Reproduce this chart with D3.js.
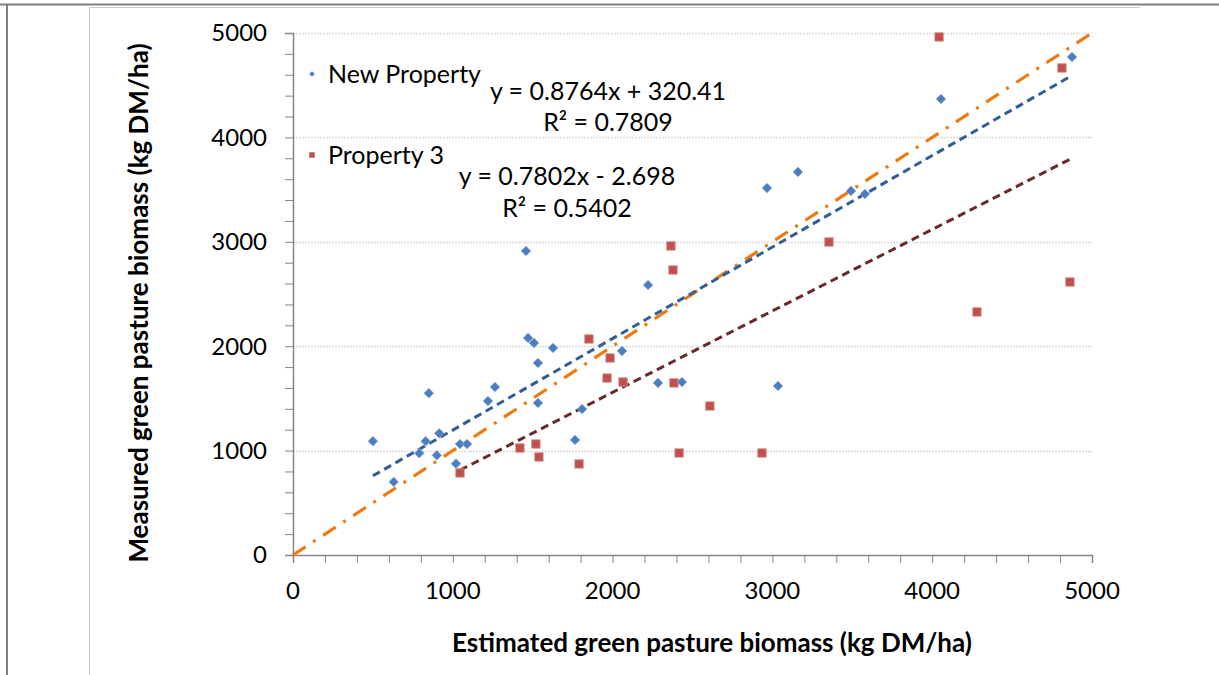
<!DOCTYPE html>
<html>
<head>
<meta charset="utf-8">
<script src="https://cdn.jsdelivr.net/npm/d3@7"></script>
<style>
  html, body { margin: 0; padding: 0; background: #fff; }
  svg { display: block; }
  text { font-family: Lato, "Open Sans", sans-serif; fill: #000; }
</style>
</head>
<body>
<script>
// Estimated vs measured green pasture biomass (kg DM/ha)
const newPropertyEst = [500, 630, 850, 830, 915, 790, 900, 1020, 1045, 1089, 1220, 1264, 1533, 1458,
  1471, 1508, 1627, 1533, 2059, 2222, 1765, 1809, 2284, 2434, 3035, 2966, 3160, 3492, 3579, 4055, 4875];
const newPropertyMeas = [1090, 700, 1550, 1090, 1165, 975, 955, 875, 1063, 1063, 1475, 1609, 1456, 2912,
  2079, 2031, 1983, 1839, 1954, 2586, 1102, 1398, 1648, 1657, 1619, 3515, 3669, 3487, 3458, 4368, 4770];

const property3Est = [1045, 1420, 1520, 1539, 1790, 1852, 1984, 1965, 2065, 2384, 2365, 2378, 2609,
  2416, 2935, 3354, 4043, 4812, 4862, 4280];
const property3Meas = [786, 1025, 1063, 939, 872, 2069, 1887, 1695, 1657, 1648, 2960, 2730, 1427,
  977, 977, 2998, 4962, 4665, 2615, 2328];

// Linear trendlines: slope, intercept, R²
const seriesNames = ["New Property", "Property 3"];
const trendSlopes = [0.8764, 0.7802];
const trendIntercepts = [320.41, -2.698];
const trendR2 = ["0.7809", "0.5402"];
const trendEquations = ["y = 0.8764x + 320.41", "y = 0.7802x - 2.698"];

// 1:1 reference line
const oneToOne = [0, 5000];

const xTicks = [0, 1000, 2000, 3000, 4000, 5000];
const yTicks = [0, 1000, 2000, 3000, 4000, 5000];

const W = 1219, H = 675;
const plot = { left: 293, right: 1092, top: 33, bottom: 555 };

const svg = d3.select("body").append("svg").attr("width", W).attr("height", H);

// surrounding document frame
svg.append("line").attr("x1", 0).attr("x2", W).attr("y1", 4.5).attr("y2", 4.5)
  .attr("stroke", "#808080").attr("stroke-width", 2);
svg.append("line").attr("x1", 7).attr("x2", 7).attr("y1", 4).attr("y2", H)
  .attr("stroke", "#808080").attr("stroke-width", 2);
svg.append("path").attr("d", `M89.5,${H} V7.5 H1140`)
  .attr("fill", "none").attr("stroke", "#c8c8c8").attr("stroke-width", 1);

const x = d3.scaleLinear().domain([0, 5000]).range([plot.left, plot.right]);
const y = d3.scaleLinear().domain([0, 5000]).range([plot.bottom, plot.top]);

// horizontal gridlines
svg.append("g").selectAll("line").data(yTicks.filter(d => d > 0)).join("line")
  .attr("x1", plot.left).attr("x2", plot.right)
  .attr("y1", d => Math.round(y(d)) + 0.5).attr("y2", d => Math.round(y(d)) + 0.5)
  .attr("stroke", "#d9d9d9").attr("stroke-width", 1.5).attr("stroke-dasharray", "2 1");

const axisColor = "#868686";
const minorX = d3.range(0, 5001, 200);
const minorY = d3.range(0, 5001, 200);

// x axis with major/minor ticks
const gx = svg.append("g").attr("transform", `translate(0,${plot.bottom})`)
  .call(d3.axisBottom(x).tickValues(minorX).tickSize(8).tickFormat(""));
gx.select(".domain").attr("stroke", axisColor).attr("stroke-width", 1.5);
gx.selectAll(".tick line").attr("stroke", axisColor).attr("stroke-width", 1);
svg.append("g").selectAll("text").data(xTicks).join("text")
  .attr("x", d => x(d)).attr("y", 591).attr("dy", "0.35em")
  .attr("text-anchor", "middle").attr("font-size", 24).text(d => d);

// y axis with major/minor ticks
const gy = svg.append("g").attr("transform", `translate(${plot.left},0)`)
  .call(d3.axisLeft(y).tickValues(minorY).tickSize(8).tickFormat(""));
gy.select(".domain").attr("stroke", axisColor).attr("stroke-width", 1.5);
gy.selectAll(".tick line").attr("stroke", axisColor).attr("stroke-width", 1);
svg.append("g").selectAll("text").data(yTicks).join("text")
  .attr("x", 267).attr("y", d => y(d)).attr("dy", "0.35em")
  .attr("text-anchor", "end").attr("font-size", 24).text(d => d);

// axis titles
svg.append("text").attr("x", 712).attr("y", 643).attr("dy", "0.35em")
  .attr("text-anchor", "middle").attr("font-size", 26).attr("font-weight", "bold")
  .text("Estimated green pasture biomass (kg DM/ha)");
svg.append("text").attr("transform", "translate(139,303) rotate(-90)").attr("dy", "0.35em")
  .attr("text-anchor", "middle").attr("font-size", 26).attr("font-weight", "bold")
  .text("Measured green pasture biomass (kg DM/ha)");

const line = d3.line().x(d => x(d[0])).y(d => y(d[1]));

// 1:1 line
svg.append("path").datum(oneToOne.map(v => [v, v])).attr("d", line)
  .attr("fill", "none").attr("stroke", "#EE7A12").attr("stroke-width", 3.2)
  .attr("stroke-dasharray", "15 9 3 9");

// trendlines across each series' estimated range
const estimates = [newPropertyEst, property3Est];
const trendColors = ["#2F5E98", "#6A2A2A"];
estimates.forEach((est, i) => {
  const [lo, hi] = d3.extent(est);
  const pts = [lo, hi].map(v => [v, trendSlopes[i] * v + trendIntercepts[i]]);
  svg.append("path").datum(pts).attr("d", line)
    .attr("fill", "none").attr("stroke", trendColors[i]).attr("stroke-width", 3)
    .attr("stroke-dasharray", "8 5");
});

const diamond = d3.symbol().type(d3.symbolDiamond2 || d3.symbolDiamond).size(60);
const square = d3.symbol().type(d3.symbolSquare).size(72);

// Property 3 points
svg.append("g").selectAll("path").data(d3.zip(property3Est, property3Meas)).join("path")
  .attr("transform", d => `translate(${x(d[0])},${y(d[1])})`)
  .attr("d", square).attr("fill", "#C0504D").attr("stroke", "#d98f8d").attr("stroke-width", 0.8);

// New Property points
svg.append("g").selectAll("path").data(d3.zip(newPropertyEst, newPropertyMeas)).join("path")
  .attr("transform", d => `translate(${x(d[0])},${y(d[1])})`)
  .attr("d", diamond).attr("fill", "#4A7EC0").attr("stroke", "#8fb0da").attr("stroke-width", 0.8);

// legend
const legendY = [74, 155];
svg.append("path").attr("transform", `translate(312,${legendY[0]})`)
  .attr("d", d3.symbol().type(d3.symbolDiamond2 || d3.symbolDiamond).size(20)).attr("fill", "#4A7EC0");
svg.append("path").attr("transform", `translate(312,${legendY[1]})`)
  .attr("d", d3.symbol().type(d3.symbolSquare).size(30)).attr("fill", "#C0504D");
seriesNames.forEach((name, i) => {
  svg.append("text").attr("x", 328).attr("y", legendY[i]).attr("dy", "0.35em")
    .attr("font-size", 25).text(name);
});

// trendline equations
const eqPos = [{ cx: 608, y1: 91, y2: 122 }, { cx: 567, y1: 176, y2: 208 }];
eqPos.forEach((p, i) => {
  svg.append("text").attr("x", p.cx).attr("y", p.y1).attr("dy", "0.35em")
    .attr("text-anchor", "middle").attr("font-size", 25).text(trendEquations[i]);
  svg.append("text").attr("x", p.cx).attr("y", p.y2).attr("dy", "0.35em")
    .attr("text-anchor", "middle").attr("font-size", 25).text(`R² = ${trendR2[i]}`);
});
</script>
</body>
</html>
